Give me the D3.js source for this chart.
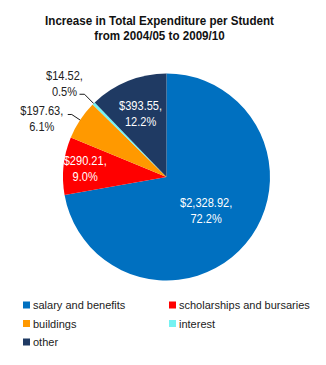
<!DOCTYPE html>
<html><head><meta charset="utf-8">
<script src="https://cdn.jsdelivr.net/npm/d3@7"></script>
<style>
html,body{margin:0;padding:0;background:#fff;}
svg{display:block;font-family:"Liberation Sans",Arial,sans-serif;}
</style></head>
<body>
<svg id="c" width="326" height="365"></svg>
<script>
const titleLines = ["Increase in Total Expenditure per Student", "from 2004/05 to 2009/10"];
const categories = ["salary and benefits", "scholarships and bursaries", "buildings", "interest", "other"];
const values = [2328.92, 290.21, 197.63, 14.52, 393.55];
const colors = ["#0070C0", "#FF0000", "#FF9900", "#75F2F2", "#1F3A63"];
const legendOrder = ["salary and benefits", "scholarships and bursaries", "buildings", "interest", "other"];

const W = 326, H = 365;
const cx = 166.5, cy = 177, R = 103.5;
const svg = d3.select("#c");

// condense text horizontally (emulates a narrow face)
function condense(sel, factor) {
  sel.each(function() {
    const w = this.getComputedTextLength();
    d3.select(this).attr("textLength", w * factor).attr("lengthAdjust", "spacingAndGlyphs");
  });
}

// title
titleLines.forEach((t, i) => {
  const el = svg.append("text").attr("text-anchor", "middle").attr("font-weight", "bold")
    .attr("font-size", 13.5).attr("fill", "#111")
    .attr("x", 159.5).attr("y", 25 + i * 15).text(t);
  condense(el, 0.86);
});

const total = d3.sum(values);
const data = categories.map((c, i) => ({cat: c, value: values[i], color: colors[i]}));
const pie = d3.pie().value(d => d.value).sort(null).startAngle(0).endAngle(2 * Math.PI);
const arcs = pie(data);
const arc = d3.arc().innerRadius(0).outerRadius(R);

const g = svg.append("g").attr("transform", `translate(${cx},${cy})`);
g.selectAll("path").data(arcs).enter().append("path")
  .attr("d", arc).attr("fill", d => d.data.color);

const fmtMoney = d3.format("$,.2f");
const fmtPct = v => (v * 100).toFixed(1) + "%";

const labelStyle = {
  "salary and benefits": {inside: true, r: 0.5},
  "scholarships and bursaries": {inside: true, r: 0.79},
  "other": {inside: true, r: 0.67},
  "buildings": {inside: false, r1: 10, hx: -4, tx: -26, ty: 3},
  "interest": {inside: false, r1: 13, hx: -5, tx: -15, ty: -11}
};

arcs.forEach(a => {
  const s = labelStyle[a.data.cat];
  const mid = (a.startAngle + a.endAngle) / 2;
  const lines = [fmtMoney(a.data.value) + ",", fmtPct(a.data.value / total)];
  let x, y, fill;
  if (s.inside) {
    x = Math.sin(mid) * R * s.r; y = -Math.cos(mid) * R * s.r; fill = "#fff";
  } else {
    const p0 = [Math.sin(mid) * R, -Math.cos(mid) * R];
    const p1 = [Math.sin(mid) * (R + s.r1), -Math.cos(mid) * (R + s.r1)];
    const p2 = [p1[0] + s.hx, p1[1]];
    g.append("polyline").attr("points", [p0, p1, p2].map(p => p.join(",")).join(" "))
      .attr("fill", "none").attr("stroke", "#000").attr("stroke-width", 0.9);
    x = p2[0] + s.tx; y = p2[1] + s.ty; fill = "#222";
  }
  lines.forEach((l, i) => {
    const el = g.append("text").attr("text-anchor", "middle").attr("font-size", 13)
      .attr("fill", fill).attr("x", x).attr("y", y + (i - 0.5) * 16 + 5).text(l);
    condense(el, 0.85);
  });
});

// legend
const leg = svg.append("g");
legendOrder.forEach((c, i) => {
  const col = i % 2, row = Math.floor(i / 2);
  const lx = 23 + col * 146, ly = 305 + row * 18.5;
  leg.append("rect").attr("x", lx).attr("y", ly - 3.5).attr("width", 7).attr("height", 7)
    .attr("fill", colors[categories.indexOf(c)]);
  leg.append("text").attr("x", lx + 10).attr("y", ly + 4).attr("font-size", 11)
    .attr("fill", "#222").text(c);
});
</script>
</body></html>
